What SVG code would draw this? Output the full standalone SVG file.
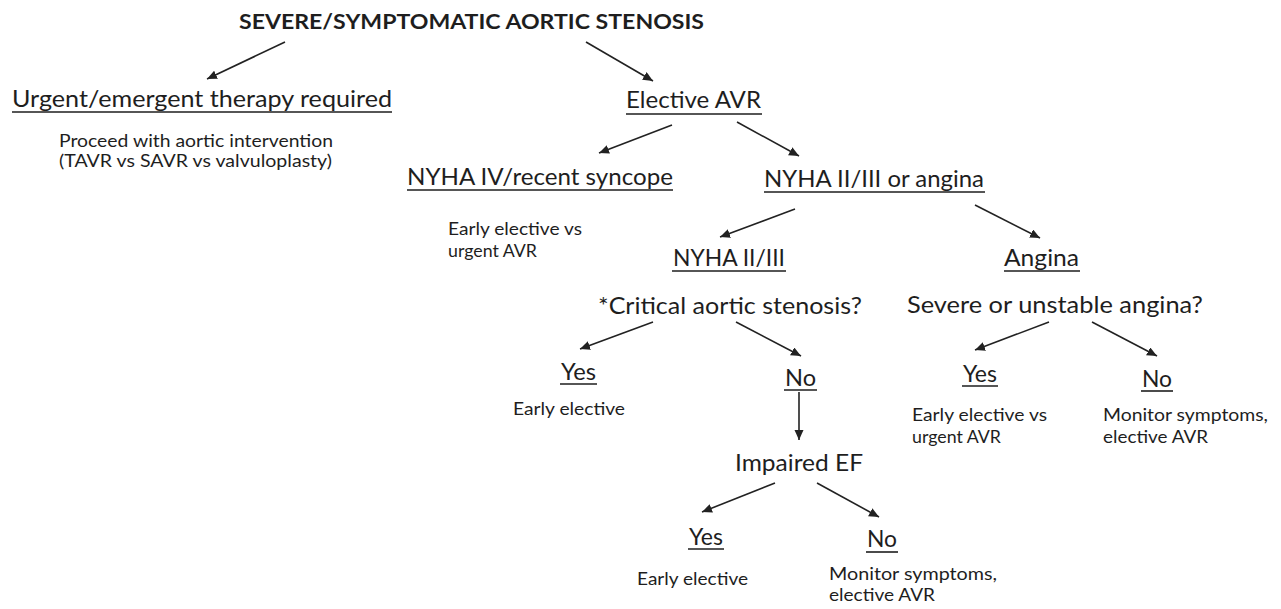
<svg xmlns="http://www.w3.org/2000/svg" width="1281" height="609" viewBox="0 0 1281 609">
<style>
text{font-family:Lato,"Open Sans","Liberation Sans",sans-serif;fill:#1e1e1e}
.t{font-size:21px;font-weight:bold}
.h{font-size:23px}
.s{font-size:18px}
.u{stroke:#1e1e1e;stroke-width:1.6}
.c line{stroke:#222;stroke-width:1.6;marker-end:url(#ah)}
</style>
<defs>
<marker id="ah" markerUnits="userSpaceOnUse" markerWidth="12" markerHeight="10" refX="10" refY="4.5" orient="auto">
<path d="M0,0 L10,4.5 L0,9 Z" fill="#222"/>
</marker>
</defs>
<rect width="1281" height="609" fill="#fff"/>
<g id="n-title"><text class="t" x="239" y="29" textLength="465" lengthAdjust="spacingAndGlyphs">SEVERE/SYMPTOMATIC AORTIC STENOSIS</text></g>
<g id="n-urgent">
<text class="h" x="12" y="107" textLength="380" lengthAdjust="spacingAndGlyphs">Urgent/emergent therapy required</text>
<line class="u" x1="12" y1="112" x2="392" y2="112"/>
<text class="s" x="59" y="147" textLength="274" lengthAdjust="spacingAndGlyphs">Proceed with aortic intervention</text>
<text class="s" x="59" y="167" textLength="273" lengthAdjust="spacingAndGlyphs">(TAVR vs SAVR vs valvuloplasty)</text>
</g>
<g id="n-elective">
<text class="h" x="626" y="108" textLength="135" lengthAdjust="spacingAndGlyphs">Elective AVR</text>
<line class="u" x1="626" y1="114" x2="762" y2="114"/>
</g>
<g id="n-nyha4">
<text class="h" x="407" y="185" textLength="266" lengthAdjust="spacingAndGlyphs">NYHA IV/recent syncope</text>
<line class="u" x1="407" y1="190" x2="673" y2="190"/>
<text class="s" x="448" y="235" textLength="134" lengthAdjust="spacingAndGlyphs">Early elective vs</text>
<text class="s" x="448" y="257" textLength="89" lengthAdjust="spacingAndGlyphs">urgent AVR</text>
</g>
<g id="n-nyha23angina">
<text class="h" x="764" y="187" textLength="220" lengthAdjust="spacingAndGlyphs">NYHA II/III or angina</text>
<line class="u" x1="764" y1="192" x2="985" y2="192"/>
</g>
<g id="n-nyha23">
<text class="h" x="673" y="266" textLength="112" lengthAdjust="spacingAndGlyphs">NYHA II/III</text>
<line class="u" x1="672" y1="271" x2="786" y2="271"/>
<text class="h" x="598" y="314" textLength="264" lengthAdjust="spacingAndGlyphs">*Critical aortic stenosis?</text>
</g>
<g id="n-angina">
<text class="h" x="1004" y="266" textLength="75" lengthAdjust="spacingAndGlyphs">Angina</text>
<line class="u" x1="1004" y1="271" x2="1080" y2="271"/>
<text class="h" x="907" y="313" textLength="296" lengthAdjust="spacingAndGlyphs">Severe or unstable angina?</text>
</g>
<g id="n-yes1">
<text class="h" x="561" y="380" textLength="35" lengthAdjust="spacingAndGlyphs">Yes</text>
<line class="u" x1="560" y1="384" x2="597" y2="384"/>
<text class="s" x="513" y="415" textLength="112" lengthAdjust="spacingAndGlyphs">Early elective</text>
</g>
<g id="n-no1">
<text class="h" x="785" y="386" textLength="31" lengthAdjust="spacingAndGlyphs">No</text>
<line class="u" x1="784" y1="390" x2="817" y2="390"/>
</g>
<g id="n-impaired">
<text class="h" x="735" y="471" textLength="128" lengthAdjust="spacingAndGlyphs">Impaired EF</text>
</g>
<g id="n-yes2">
<text class="h" x="963" y="382" textLength="34" lengthAdjust="spacingAndGlyphs">Yes</text>
<line class="u" x1="962" y1="386" x2="998" y2="386"/>
<text class="s" x="912" y="421" textLength="135" lengthAdjust="spacingAndGlyphs">Early elective vs</text>
<text class="s" x="912" y="443" textLength="89" lengthAdjust="spacingAndGlyphs">urgent AVR</text>
</g>
<g id="n-no2">
<text class="h" x="1142" y="387" textLength="30" lengthAdjust="spacingAndGlyphs">No</text>
<line class="u" x1="1141" y1="391" x2="1173" y2="391"/>
<text class="s" x="1103" y="421" textLength="165" lengthAdjust="spacingAndGlyphs">Monitor symptoms,</text>
<text class="s" x="1103" y="443" textLength="105" lengthAdjust="spacingAndGlyphs">elective AVR</text>
</g>
<g id="n-yes3">
<text class="h" x="689" y="545" textLength="34" lengthAdjust="spacingAndGlyphs">Yes</text>
<line class="u" x1="688" y1="549" x2="724" y2="549"/>
<text class="s" x="637" y="585" textLength="111" lengthAdjust="spacingAndGlyphs">Early elective</text>
</g>
<g id="n-no3">
<text class="h" x="867" y="547" textLength="30" lengthAdjust="spacingAndGlyphs">No</text>
<line class="u" x1="866" y1="552" x2="898" y2="552"/>
<text class="s" x="829" y="580" textLength="168" lengthAdjust="spacingAndGlyphs">Monitor symptoms,</text>
<text class="s" x="829" y="601" textLength="106" lengthAdjust="spacingAndGlyphs">elective AVR</text>
</g>
<g id="connectors" class="c">
<line x1="285" y1="42" x2="207" y2="79"/>
<line x1="586" y1="42" x2="653" y2="81"/>
<line x1="672" y1="125" x2="599" y2="153"/>
<line x1="737" y1="122" x2="799" y2="156"/>
<line x1="795" y1="209" x2="720" y2="237"/>
<line x1="975" y1="205" x2="1040" y2="238"/>
<line x1="653" y1="322" x2="580" y2="349"/>
<line x1="736" y1="322" x2="801" y2="356"/>
<line x1="1049" y1="322" x2="975" y2="350"/>
<line x1="1092" y1="322" x2="1157" y2="356"/>
<line x1="799" y1="392" x2="799" y2="440"/>
<line x1="775" y1="483" x2="702" y2="512"/>
<line x1="817" y1="483" x2="879" y2="517"/>
</g>
</svg>
